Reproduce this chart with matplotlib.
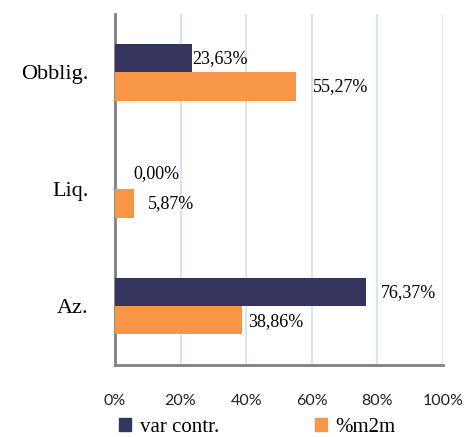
import matplotlib
matplotlib.use("Agg")
import matplotlib.pyplot as plt
import numpy as np
from matplotlib.patches import Patch

# data (bottom to top)
categories = ["Az.", "Liq.", "Obblig."]
var_contr = [76.37, 0.00, 23.63]
m2m = [38.86, 5.87, 55.27]
series_names = ["var contr.", "%m2m"]
xticks = [0, 20, 40, 60, 80, 100]

dark = "#34345f"
orange = "#f79646"
serif = "Liberation Serif"

fig = plt.figure(figsize=(4.65, 4.37), dpi=100)
ax = fig.add_axes([0.247, 0.165, 0.706, 0.803])

y = np.arange(len(categories))
h = 0.24
ax.barh(y + h / 2, var_contr, height=h, color=dark, zorder=3)
ax.barh(y - h / 2, m2m, height=h, color=orange, zorder=3)

ax.set_xlim(0, 100)
ax.set_ylim(-0.5, len(categories) - 0.5)
ax.set_xticks(xticks)
ax.set_xticklabels([f"{t}%" for t in xticks], fontsize=11.5, family="Lato", color="#222222")
ax.set_yticks(y)
ax.set_yticklabels(categories, fontsize=16, family=serif)
ax.tick_params(axis="x", length=0, pad=21)
ax.tick_params(axis="y", length=0, pad=19)
ax.grid(axis="x", color="#dae3f3", linewidth=1.5, zorder=0)

for s in ["top", "right"]:
    ax.spines[s].set_visible(False)
for s in ["left", "bottom"]:
    ax.spines[s].set_color("#808080")
    ax.spines[s].set_linewidth(2)


def fmt(v):
    return f"{v:.2f}".replace(".", ",") + "%"


# label offsets in points (styling only)
dark_off = [(11, 0), (13, 1), (0, 0)]
orange_off = [(4, -1), (10, 0), (12, 0)]
for i in range(len(categories)):
    ax.annotate(fmt(var_contr[i]), (var_contr[i], y[i] + h / 2),
                xytext=dark_off[i], textcoords="offset points",
                ha="left", va="center", fontsize=13, family=serif)
    ax.annotate(fmt(m2m[i]), (m2m[i], y[i] - h / 2),
                xytext=orange_off[i], textcoords="offset points",
                ha="left", va="center", fontsize=13, family=serif)

handles = [Patch(color=dark), Patch(color=orange)]
fig.legend(handles, series_names, loc="lower center", bbox_to_anchor=(0.553, -0.043),
           ncol=2, frameon=False, columnspacing=4.6, handlelength=0.6, handleheight=0.6,
           handletextpad=0.4, prop={"family": serif, "size": 15})

fig.savefig("out.png", dpi=100)
